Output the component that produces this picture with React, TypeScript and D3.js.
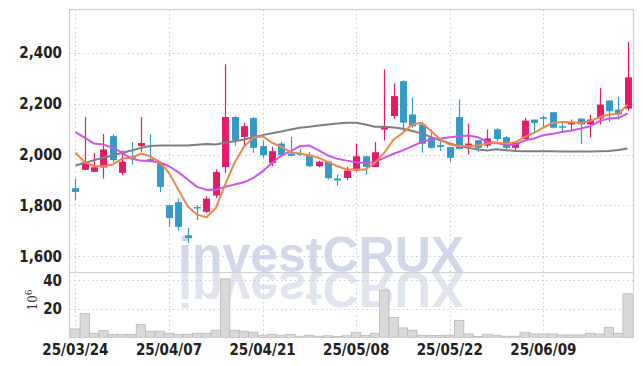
import React from "react";
import * as d3 from "d3";

// trading days shown on the chart
const dates = [
  "25/03/24", "25/03/25", "25/03/26", "25/03/27", "25/03/28", "25/03/31", "25/04/01", "25/04/02", "25/04/03", "25/04/04",
  "25/04/07", "25/04/08", "25/04/09", "25/04/10", "25/04/11", "25/04/14", "25/04/15", "25/04/16", "25/04/17", "25/04/18",
  "25/04/21", "25/04/22", "25/04/23", "25/04/24", "25/04/25", "25/04/28", "25/04/29", "25/04/30", "25/05/02", "25/05/07",
  "25/05/08", "25/05/09", "25/05/12", "25/05/13", "25/05/14", "25/05/15", "25/05/16", "25/05/19", "25/05/20", "25/05/21",
  "25/05/22", "25/05/23", "25/05/26", "25/05/27", "25/05/28", "25/05/29", "25/05/30", "25/06/02", "25/06/04", "25/06/05",
  "25/06/09", "25/06/10", "25/06/11", "25/06/12", "25/06/13", "25/06/16", "25/06/17", "25/06/18", "25/06/19", "25/06/20",
];

const open = [
  1868, 1940, 1932, 1949, 2072, 1928, 1993, 2033, 1982, 1967,
  1801, 1813, 1683, 1794, 1775, 1839, 1951, 2147, 2069, 2143,
  2033, 1967, 2043, 2004, 2004, 1999, 1954, 1972, 1906, 1908,
  1938, 1993, 1951, 2098, 2151, 2288, 2157, 2118, 2066, 2037,
  2029, 2147, 2030, 2056, 2035, 2099, 2068, 2026, 2061, 2137,
  2146, 2166, 2111, 2118, 2141, 2118, 2141, 2212, 2176, 2180,
];
const high = [
  1906, 2147, 2007, 2081, 2079, 2016, 2049, 2147, 2079, 1967,
  1801, 1827, 1712, 1801, 1836, 1941, 2354, 2151, 2125, 2147,
  2055, 2030, 2049, 2069, 2020, 2010, 1975, 1975, 1921, 1951,
  2043, 1993, 2049, 2334, 2279, 2291, 2223, 2125, 2098, 2052,
  2029, 2216, 2121, 2056, 2098, 2105, 2072, 2048, 2144, 2137,
  2153, 2166, 2124, 2137, 2141, 2157, 2261, 2212, 2226, 2442,
];
const low = [
  1820, 1940, 1932, 1906, 1970, 1919, 1961, 2010, 1970, 1852,
  1716, 1702, 1653, 1742, 1771, 1830, 1928, 2035, 2033, 2007,
  1987, 1954, 1993, 1993, 1996, 1951, 1950, 1902, 1878, 1899,
  1934, 1921, 1951, 2055, 2140, 2088, 2105, 2007, 2024, 2013,
  1971, 2020, 2000, 2010, 2026, 2052, 2017, 2016, 2059, 2085,
  2105, 2102, 2088, 2091, 2042, 2068, 2118, 2127, 2137, 2173,
];
const close = [
  1853, 1970, 1950, 2020, 1978, 1972, 1984, 2045, 1972, 1873,
  1751, 1716, 1672, 1790, 1827, 1931, 2147, 2055, 2111, 2026,
  1997, 2013, 1997, 1995, 1999, 1954, 1972, 1907, 1898, 1937,
  1993, 1951, 2009, 2108, 2229, 2125, 2111, 2042, 2026, 2030,
  1987, 2022, 2043, 2026, 2063, 2061, 2026, 2046, 2133, 2124,
  2141, 2105, 2108, 2127, 2118, 2137, 2196, 2170, 2157, 2303,
];
// volume, millions of shares
const volume = [
  6.0, 16.8, 3.0, 4.8, 2.3, 2.3, 2.3, 9.2, 4.4, 4.4,
  3.0, 2.3, 2.3, 3.0, 3.0, 5.1, 41.0, 5.1, 4.4, 3.7,
  1.6, 2.3, 1.6, 2.3, 0.9, 1.6, 0.9, 1.2, 0.7, 1.2,
  3.7, 1.4, 3.0, 33.0, 14.0, 6.7, 5.1, 1.6, 1.4, 1.4,
  1.6, 12.0, 2.5, 0.7, 2.3, 1.6, 0.9, 0.9, 3.7, 2.5,
  2.5, 2.5, 1.8, 1.8, 1.8, 3.0, 2.5, 7.1, 3.0, 30.6,
];
// moving averages as drawn
const ma5 = [
  2007, 1970, 1954, 1954, 1961, 1984, 1987, 2004, 1993, 1970,
  1928, 1862, 1797, 1764, 1754, 1790, 1882, 1967, 2030, 2066,
  2072, 2046, 2030, 2009, 2004, 1996, 1987, 1970, 1954, 1941,
  1941, 1941, 1967, 2007, 2059, 2085, 2118, 2125, 2092, 2059,
  2039, 2033, 2033, 2035, 2043, 2046, 2043, 2048, 2068, 2085,
  2105, 2124, 2128, 2127, 2124, 2131, 2146, 2157, 2159, 2196,
];
const ma20 = [
  2088, 2066, 2043, 2039, 2026, 2007, 1983, 1976, 1974, 1970,
  1954, 1931, 1902, 1873, 1862, 1862, 1873, 1882, 1891, 1908,
  1934, 1967, 1996, 2013, 2033, 2035, 2016, 1996, 1983, 1976,
  1970, 1967, 1970, 1987, 2003, 2016, 2033, 2049, 2059, 2063,
  2068, 2072, 2075, 2068, 2050, 2046, 2037, 2039, 2055, 2063,
  2076, 2081, 2088, 2094, 2102, 2111, 2131, 2141, 2144, 2161,
];
const ma60 = [
  1957, 1967, 1978, 1987, 1996, 2007, 2016, 2026, 2033, 2035,
  2035, 2035, 2035, 2038, 2041, 2039, 2046, 2052, 2059, 2068,
  2076, 2083, 2090, 2098, 2105, 2109, 2114, 2118, 2122, 2125,
  2125, 2118, 2109, 2109, 2106, 2101, 2092, 2083, 2068, 2056,
  2043, 2033, 2026, 2020, 2016, 2021, 2017, 2014, 2013, 2013,
  2013, 2013, 2012, 2012, 2012, 2012, 2013, 2014, 2018, 2024,
];

const priceTicks = [1600, 1800, 2000, 2200, 2400];
const volTicks = [20, 40];
const dateTicks = ["25/03/24", "25/04/07", "25/04/21", "25/05/08", "25/05/22", "25/06/09"];

const W = 643;
const H = 366;
const left = 69.5;
const right = 633.5;
const top = 9.5;
const split = 272.5;
const bottom = 337.5;

const UP = "#e6196a";
const DOWN = "#3399c9";
const GRID = "#c5cade";
const labelFont = "'Liberation Sans Narrow', 'DejaVu Sans Condensed', 'Arial Narrow', sans-serif";

export default function App() {
  const x = d3.scaleBand<string>().domain(dates).range([left, right]).padding(0.26);
  const cx = (d: string) => (x(d) as number) + x.bandwidth() / 2;
  const step = x.step();
  const y = d3.scaleLinear().domain([1537, 2569]).range([split, top]);
  const yv = d3.scaleLinear().domain([0, 45.5]).range([bottom, split]);

  const line = d3
    .line<number>()
    .x((_, i) => cx(dates[i]))
    .y((d) => y(d));

  return (
    <svg
      width={W}
      height={H}
      style={{ position: "absolute", left: 0, top: 0, background: "#fff" }}
    >
      <defs>
        <linearGradient id="refl" gradientUnits="userSpaceOnUse" x1="0" y1={272} x2="0" y2={318}>
          <stop offset="0" stopColor="#c8cee3" stopOpacity={0.55} />
          <stop offset="1" stopColor="#c8cee3" stopOpacity={0.12} />
        </linearGradient>
        <clipPath id="plot">
          <rect x={left} y={top} width={right - left} height={bottom - top} />
        </clipPath>
      </defs>

      {/* grid */}
      <g stroke={GRID} strokeWidth={1} strokeDasharray="1.5,3">
        {priceTicks.map((t) => (
          <line key={"p" + t} x1={left} x2={right} y1={Math.round(y(t)) + 0.5} y2={Math.round(y(t)) + 0.5} />
        ))}
        {volTicks.map((t) => (
          <line key={"v" + t} x1={left} x2={right} y1={Math.round(yv(t)) + 0.5} y2={Math.round(yv(t)) + 0.5} />
        ))}
        {dateTicks.map((d) => (
          <line key={"d" + d} x1={Math.round(cx(d)) + 0.5} x2={Math.round(cx(d)) + 0.5} y1={top} y2={bottom} />
        ))}
      </g>

      {/* watermark */}
      <g clipPath="url(#plot)" fontFamily="'Liberation Sans', Arial, sans-serif" fontWeight="bold" fontSize={50}>
        <text x={178} y={272} fill="#c8cee3" fillOpacity={0.8}>
          investCRUX
        </text>
        <text x={178} y={272} fill="url(#refl)" transform="translate(0,544) scale(1,-1)">
          investCRUX
        </text>
      </g>

      {/* volume */}
      <g fill="#d9d9d9" stroke="#b8b8b8" strokeWidth={0.8}>
        {volume.map((v, i) => (
          <rect
            key={i}
            x={cx(dates[i]) - step / 2}
            y={yv(v)}
            width={step}
            height={yv(0) - yv(v)}
          />
        ))}
      </g>

      {/* candles */}
      <g>
        {dates.map((d, i) => {
          const o = open[i];
          const c = close[i];
          const col = c >= o ? UP : DOWN;
          const yt = y(Math.max(o, c));
          const yb = y(Math.min(o, c));
          const xc = Math.round(cx(d)) + 0.5;
          return (
            <g key={d}>
              <line x1={xc} x2={xc} y1={y(high[i])} y2={y(low[i])} stroke={col} strokeWidth={1.2} />
              <rect
                x={xc - x.bandwidth() / 2}
                y={yt}
                width={x.bandwidth()}
                height={Math.max(1.5, yb - yt)}
                fill={col}
              />
            </g>
          );
        })}
      </g>

      {/* moving averages */}
      <g fill="none" strokeWidth={2} strokeLinejoin="round">
        <path d={line(ma60) as string} stroke="#7f7f7f" />
        <path d={line(ma20) as string} stroke="#cc55ee" />
        <path d={line(ma5) as string} stroke="#f0874a" />
      </g>

      {/* frame */}
      <g fill="none" stroke="#cfcfcf" strokeWidth={1.2}>
        <rect x={left} y={top} width={right - left} height={bottom - top} />
        <line x1={left} x2={right} y1={split} y2={split} />
      </g>

      {/* axis labels */}
      <g fontFamily={labelFont} fontWeight="bold" fontSize={15} fill="#222" textAnchor="end">
        {priceTicks.map((t) => (
          <text key={t} x={62} y={y(t)} dy="0.35em">
            {d3.format(",")(t)}
          </text>
        ))}
        {volTicks.map((t) => (
          <text key={t} x={62} y={yv(t)} dy="0.35em">
            {t}
          </text>
        ))}
      </g>
      <text
        transform="translate(37,300) rotate(-90)"
        textAnchor="middle"
        fontFamily="'DejaVu Serif', serif"
        fontSize={12}
        fill="#333"
      >
        10<tspan dy="-5" fontSize={9}>6</tspan>
      </text>
      <g fontFamily={labelFont} fontWeight="bold" fontSize={15} fill="#222" textAnchor="middle">
        {dateTicks.map((d) => (
          <text key={d} x={cx(d)} y={355}>
            {d}
          </text>
        ))}
      </g>
    </svg>
  );
}
